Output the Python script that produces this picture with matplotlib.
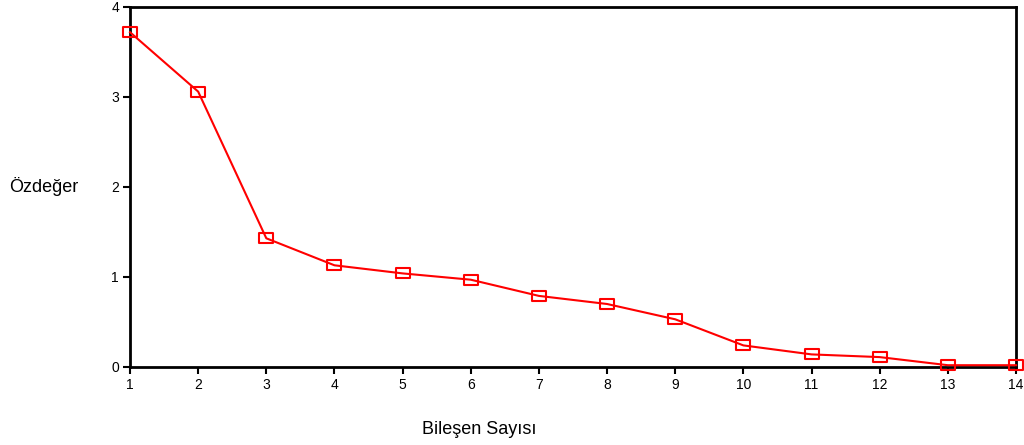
import numpy as np
import matplotlib.pyplot as plt
from matplotlib.path import Path

components = list(range(1, 15))
eigenvalues = [3.72, 3.06, 1.43, 1.13, 1.04, 0.97, 0.79, 0.70, 0.53, 0.24, 0.14, 0.11, 0.02, 0.02]
y_ticks = [0, 1, 2, 3, 4]

plt.rcParams['font.family'] = ['Liberation Sans', 'DejaVu Sans']

# rectangular (wider than tall) open marker
rect = Path([(-1.5, -1), (1.5, -1), (1.5, 1), (-1.5, 1), (-1.5, -1)],
            [Path.MOVETO, Path.LINETO, Path.LINETO, Path.LINETO, Path.CLOSEPOLY])


def main():
    fig = plt.figure(figsize=(10.24, 4.45), dpi=100)
    ax = fig.add_axes([130 / 1024, 1 - 367 / 445, 886 / 1024, 360 / 445])

    ax.plot(components, eigenvalues, color='#ff0000', linewidth=1.5,
            marker=rect, markersize=10, markerfacecolor='none',
            markeredgecolor='#ff0000', markeredgewidth=1.5, clip_on=False, zorder=3)

    ax.set_xlim(1, 14)
    ax.set_ylim(0, 4)
    ax.set_xticks(components)
    ax.set_yticks(y_ticks)
    ax.tick_params(direction='out', length=5, width=1.5, labelsize=10, pad=3)
    for s in ax.spines.values():
        s.set_linewidth(2)

    ax.set_xlabel('Bileşen Sayısı', fontsize=13, labelpad=21)
    ax.xaxis.label.set_x(0.394)
    ax.set_ylabel('Özdeğer', fontsize=13, rotation=0, ha='left', va='center')
    ax.yaxis.set_label_coords(-0.136, 0.5)

    fig.savefig('out.png', dpi=100)


if __name__ == '__main__':
    main()
